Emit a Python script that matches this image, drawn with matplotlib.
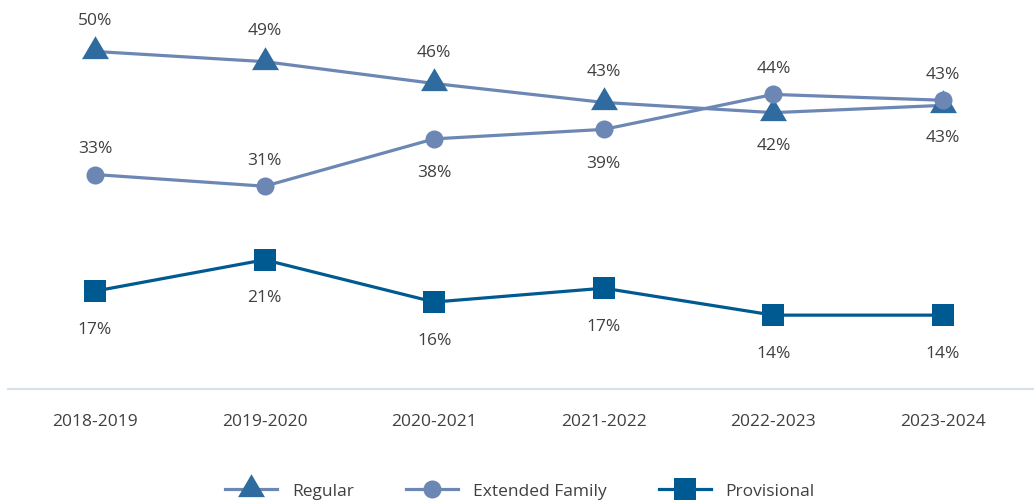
import matplotlib
matplotlib.use('Agg')
import matplotlib.pyplot as plt

years = ['2018-2019', '2019-2020', '2020-2021', '2021-2022', '2022-2023', '2023-2024']
regular = [49.9, 48.5, 45.5, 42.9, 41.5, 42.5]
extended = [33.0, 31.4, 37.9, 39.2, 44.0, 43.2]
provisional = [17.0, 21.3, 15.5, 17.4, 13.7, 13.7]

# where each data label sits (above / below the point)
regular_pos = ['a', 'a', 'a', 'a', 'b', 'b']
extended_pos = ['a', 'a', 'b', 'b', 'a', 'a']
provisional_pos = ['b', 'b', 'b', 'b', 'b', 'b']

plt.rcParams['font.family'] = ['Open Sans', 'DejaVu Sans']
txt = '#404040'

tri = [(0, 1), (-0.88, -0.5), (0.88, -0.5)]

fig = plt.figure(figsize=(10.34, 5.02), dpi=100)
ax = fig.add_axes([8/1034, 112/502, 1026/1034, 390/502])

x = list(range(len(years)))
ax.plot(x, regular, color='#6d87b5', lw=2.3, marker=tri, ms=22,
        mfc='#2f6b9e', mec='#2f6b9e', mew=0, label='Regular', zorder=3)
ax.plot(x, extended, color='#6d87b5', lw=2.3, marker='o', ms=13,
        mfc='#6d87b5', mec='#6d87b5', mew=0, label='Extended Family', zorder=4)
ax.plot(x, provisional, color='#005a92', lw=2.3, marker='s', ms=16.5,
        mfc='#005a92', mec='#005a92', mew=0, label='Provisional', zorder=5)


def labels(vals, pos, up, down):
    for i, v in enumerate(vals):
        off = up if pos[i] == 'a' else -down
        ax.annotate('%d%%' % int(v + 0.5), (i, v), xytext=(0, off),
                    textcoords='offset points', ha='center', va='center',
                    fontsize=12.5, color=txt)


labels(regular, regular_pos, 22.5, 23)
labels(extended, extended_pos, 19, 24)
labels(provisional, provisional_pos, 20, 27)

ax.set_xlim(-0.513, 5.537)
ax.set_ylim(3.56, 57.1)
ax.set_xticks(x)
ax.set_xticklabels(years, fontsize=12.5, color=txt)
ax.set_yticks([])
ax.tick_params(axis='x', length=0, pad=17.5)
for s in ['top', 'left', 'right']:
    ax.spines[s].set_visible(False)
ax.spines['bottom'].set_color('#d5e1eb')
ax.spines['bottom'].set_linewidth(1.5)

leg = fig.legend(loc='center', bbox_to_anchor=(520/1034, 10/502), ncol=3,
                 frameon=False, fontsize=12.5, handlelength=3.0,
                 handletextpad=0.85, columnspacing=3.0, labelcolor=txt)

fig.savefig('out.png', dpi=100)
